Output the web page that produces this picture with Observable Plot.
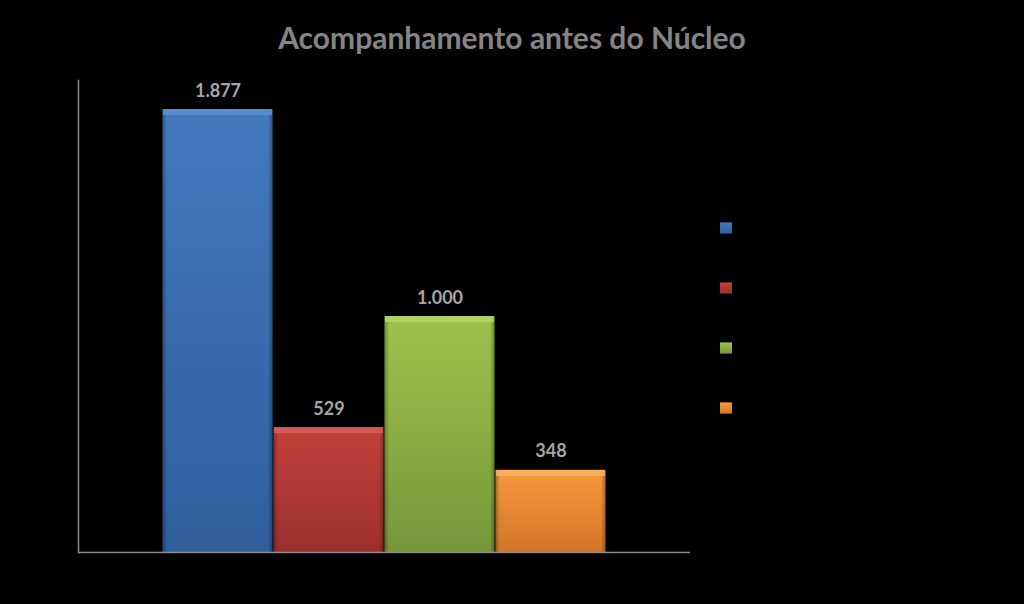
<!DOCTYPE html>
<html>
<head>
<meta charset="utf-8">
<script src="https://cdn.jsdelivr.net/npm/d3@7"></script>
<script src="https://cdn.jsdelivr.net/npm/@observablehq/plot@0.6"></script>
<style>
  html, body { margin: 0; padding: 0; background: #000; width: 1024px; height: 604px; overflow: hidden; }
  #title { position: absolute; left: 0; top: 0; width: 1024px; height: 70px; text-align: center;
           font-family: Lato, "Open Sans", sans-serif; font-weight: bold; font-size: 30px; color: #858585;
           line-height: 74px; }
  #chart { position: absolute; left: 0; top: 70px; }
  #legend { position: absolute; left: 706px; top: 196px; }
</style>
</head>
<body>
<div id="title">Acompanhamento antes do Núcleo</div>
<div id="chart"></div>
<div id="legend"></div>
<script>
const series = ["Série 1", "Série 2", "Série 3", "Série 4"];
const values = [1877, 529, 1000, 348];
const topColors = ["#4479c0", "#c4413d", "#9fc24c", "#f59a3c"];
const bottomColors = ["#2f5e9b", "#9b302d", "#76963a", "#d27628"];
const bevelColors = ["#5e92d4", "#d8605c", "#b6d66a", "#fbb463"];

const data = series.map((s, i) => ({series: s, value: values[i], i}));
const gradIds = series.map((s, i) => `url(#grad${i})`);
const fmt = d3.formatLocale({decimal: ",", thousands: ".", grouping: [3], currency: ["R$", ""]}).format(",d");

const chart = Plot.plot({
  width: 1024,
  height: 534,
  marginTop: 10,
  marginBottom: 52,
  marginLeft: 78,
  marginRight: 334,
  style: {background: "transparent", fontFamily: "Lato, 'Open Sans', sans-serif"},
  x: {domain: series, paddingInner: 0, paddingOuter: 0.757, round: false, axis: null},
  y: {domain: [0, 2000], axis: null},
  color: {type: "ordinal", domain: series, range: gradIds},
  marks: [
    Plot.barY(data, {x: "series", y: "value", fill: "series", insetLeft: 0.5, insetRight: 0.5}),
    Plot.barY(data, {x: "series", y: "value", fill: "url(#sideShade)", insetLeft: 0.5, insetRight: 0.5}),
    Plot.rect(data, {x: "series", y1: "value", y2: "value", insetBottom: -6, insetLeft: 1, insetRight: 1,
      fill: d => bevelColors[d.i], fillOpacity: 0.8, scale: null}),
    Plot.text(data, {x: "series", y: "value", text: d => fmt(d.value), lineAnchor: "bottom", dy: -13,
      fill: "#a6a6a6", fontSize: 18, fontWeight: "bold"}),
    Plot.ruleY([0], {stroke: "#8c8c8c", strokeWidth: 1.5}),
    Plot.frame({anchor: "left", stroke: "#8c8c8c", strokeWidth: 1.5})
  ]
});
document.getElementById("chart").appendChild(chart);

const legend = Plot.plot({
  width: 40,
  height: 243,
  margin: 0,
  style: {background: "transparent"},
  x: {domain: ["k"], axis: null, padding: 0},
  y: {domain: series, axis: null, padding: 0},
  color: {type: "ordinal", domain: series, range: gradIds},
  marks: [
    Plot.cell(data, {x: () => "k", y: "series", fill: "series", insetLeft: 14, insetRight: 14, insetTop: 24.4, insetBottom: 24.4})
  ]
});
document.getElementById("legend").appendChild(legend);

// gradient definitions
const svg = d3.select(chart);
const defs = svg.insert("defs", ":first-child");
series.forEach((s, i) => {
  const g = defs.append("linearGradient").attr("id", `grad${i}`).attr("x1", 0).attr("y1", 0).attr("x2", 0).attr("y2", 1);
  g.append("stop").attr("offset", "0%").attr("stop-color", topColors[i]);
  g.append("stop").attr("offset", "100%").attr("stop-color", bottomColors[i]);
});
const sg = defs.append("linearGradient").attr("id", "sideShade").attr("x1", 0).attr("y1", 0).attr("x2", 1).attr("y2", 0);
[[0, 0.3], [0.04, 0], [0.96, 0], [1, 0.3]].forEach(([o, a]) =>
  sg.append("stop").attr("offset", o).attr("stop-color", "#000").attr("stop-opacity", a));
</script>
</body>
</html>
